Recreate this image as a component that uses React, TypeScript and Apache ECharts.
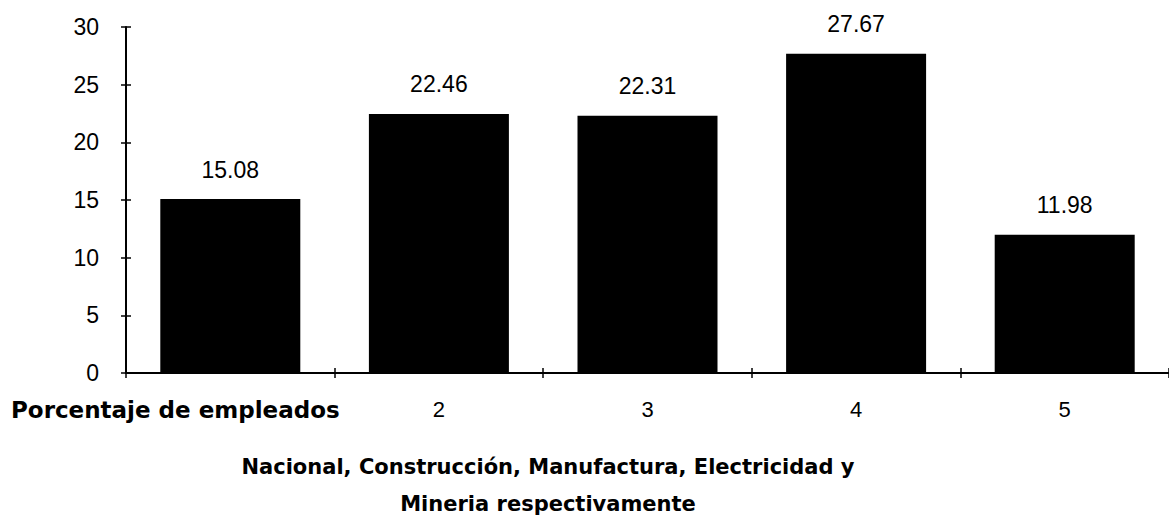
import { useEffect, useRef } from "react";
import * as echarts from "echarts";

// Employment share by sector (%)
const categories = ["Porcentaje de empleados", "2", "3", "4", "5"];
const values = [15.08, 22.46, 22.31, 27.67, 11.98];
const yMin = 0;
const yMax = 30;
const yStep = 5;
const axisTitleLines = [
  "Nacional, Construcción, Manufactura, Electricidad y",
  "Mineria respectivamente",
];

const NUM_FONT = "'Liberation Sans', Arial, sans-serif";
const BOLD_FONT = "'DejaVu Sans', sans-serif";

export default function App() {
  const ref = useRef<HTMLDivElement>(null);

  useEffect(() => {
    if (!ref.current) return;
    const chart = echarts.init(ref.current, undefined, { renderer: "svg" });

    const grid = { left: 126, top: 27, width: 1050, height: 346 };

    chart.setOption({
      animation: false,
      backgroundColor: "#ffffff",
      grid,
      title: {
        text: axisTitleLines.join("\n"),
        left: 543,
        top: 443,
        textAlign: "center",
        textStyle: {
          fontFamily: BOLD_FONT,
          fontWeight: "bold",
          fontSize: 21,
          lineHeight: 37,
          color: "#000",
        },
      },
      xAxis: [
        {
          type: "category",
          data: categories,
          position: "bottom",
          axisLine: { lineStyle: { color: "#000", width: 2 } },
          axisTick: { show: true, inside: false, length: 5, lineStyle: { color: "#000", width: 1.5 } },
          axisLabel: {
            interval: 0,
            margin: 25,
            color: "#000",
            fontFamily: NUM_FONT,
            fontSize: 22,
            formatter: (v: string, i: number) => (i === 0 ? `{first|${v}}` : v),
            rich: {
              first: {
                fontFamily: BOLD_FONT,
                fontWeight: "bold",
                fontSize: 23,
                color: "#000",
                padding: [0, 110, 0, 0],
              },
            },
          },
          splitLine: { show: false },
        },
        {
          type: "category",
          data: categories,
          position: "bottom",
          axisLine: { show: false },
          axisTick: { show: true, inside: true, length: 5, lineStyle: { color: "#000", width: 1.5 } },
          axisLabel: { show: false },
          splitLine: { show: false },
        },
      ],
      yAxis: [
        {
          type: "value",
          position: "left",
          min: yMin,
          max: yMax,
          interval: yStep,
          axisLine: { show: true, lineStyle: { color: "#000", width: 2 } },
          axisTick: { show: true, inside: false, length: 5, lineStyle: { color: "#000", width: 1.5 } },
          axisLabel: { margin: 27, color: "#000", fontFamily: NUM_FONT, fontSize: 23 },
          splitLine: { show: false },
        },
        {
          type: "value",
          position: "left",
          min: yMin,
          max: yMax,
          interval: yStep,
          axisLine: { show: false },
          axisTick: { show: true, inside: true, length: 5, lineStyle: { color: "#000", width: 1.5 } },
          axisLabel: { show: false },
          splitLine: { show: false },
        },
      ],
      series: [
        {
          type: "bar",
          data: values,
          xAxisIndex: 0,
          yAxisIndex: 0,
          barWidth: 140,
          itemStyle: { color: "#000" },
          label: {
            show: true,
            position: "top",
            distance: 18,
            color: "#000",
            fontFamily: NUM_FONT,
            fontSize: 23,
            formatter: (p: any) => p.value.toFixed(2),
          },
        },
      ],
    });

    return () => chart.dispose();
  }, []);

  return (
    <div
      ref={ref}
      style={{ position: "absolute", left: 0, top: 0, width: 1169, height: 521 }}
    />
  );
}
